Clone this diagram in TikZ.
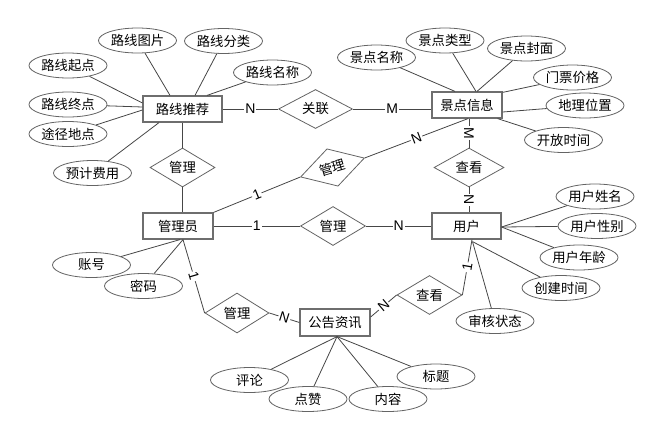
\documentclass[tikz,border=0pt]{standalone}
\usepackage{fontspec}
\setmainfont{Liberation Sans}
\newfontfamily\cjk{Noto Sans CJK SC}
\usetikzlibrary{shapes.geometric,calc}
\definecolor{linec}{RGB}{70,70,70}
\definecolor{shapec}{RGB}{100,100,100}
\definecolor{entc}{RGB}{110,110,110}
\begin{document}
\begin{tikzpicture}[x=0.75pt,y=-0.75pt,
  ent/.style={rectangle, draw=entc, line width=0.9pt, fill=white, minimum width=52.5pt, minimum height=19.5pt, inner sep=0pt, font=\cjk\fontsize{10}{12}\selectfont},
  attr/.style={ellipse, draw=shapec, line width=0.6pt, fill=white, minimum width=58.5pt, minimum height=18.75pt, inner sep=0pt, font=\cjk\fontsize{10}{12}\selectfont},
  rel/.style={diamond, draw=shapec, line width=0.6pt, fill=white, minimum width=48.75pt, minimum height=29.25pt, inner sep=0pt, font=\cjk\fontsize{10}{12}\selectfont},
  conn/.style={draw=linec, line width=0.6pt},
  card/.style={font=\fontsize{10.5}{12}\selectfont, fill=white, inner sep=0.8pt}]
\useasboundingbox (0,0) rectangle (666,439);

% entities
\node[ent, minimum width=59.25pt] (lx) at (182.5,109) {路线推荐};
\node[ent] (jd) at (467,105) {景点信息};
\node[ent] (gly) at (178,226) {管理员};
\node[ent, minimum width=51.75pt] (yh) at (466.5,226) {用户};
\node[ent, minimum height=20.25pt] (gg) at (335,322.5) {公告资讯};

% relationships
\node[rel, minimum width=55.5pt] (gl) at (315.5,109) {关联};
\node[rel] (r1) at (182.5,167.5) {管理};
\node[rel, minimum width=50pt, minimum height=28.5pt, rotate=16.5] (r2) at (332.5,167.5) {管理};
\node[rel] (r3) at (333,226) {管理};
\node[rel, minimum width=52.5pt] (r4) at (469,167.5) {查看};
\node[rel, minimum width=48pt, minimum height=30pt] (r5) at (237,313) {管理};
\node[rel, minimum height=28.5pt] (r6) at (429.5,295) {查看};

% attributes of 路线推荐
\node[attr] (a1) at (137.5,40.5) {路线图片};
\node[attr] (a2) at (223.5,41) {路线分类};
\node[attr] (a3) at (68,65.5) {路线起点};
\node[attr] (a4) at (272.5,72.5) {路线名称};
\node[attr] (a5) at (68,104.5) {路线终点};
\node[attr] (a6) at (68,134) {途径地点};
\node[attr] (a7) at (92.5,173) {预计费用};

% attributes of 景点信息
\node[attr] (b1) at (376.5,57.5) {景点名称};
\node[attr] (b2) at (445,40.5) {景点类型};
\node[attr] (b3) at (526.5,48.5) {景点封面};
\node[attr] (b4) at (572.5,77.5) {门票价格};
\node[attr] (b5) at (585,105.5) {地理位置};
\node[attr] (b6) at (563.5,140) {开放时间};

% attributes of 管理员
\node[attr] (c1) at (91.5,265) {账号};
\node[attr] (c2) at (143.5,286) {密码};

% attributes of 用户
\node[attr] (d1) at (595,196.5) {用户姓名};
\node[attr] (d2) at (597,226) {用户性别};
\node[attr] (d3) at (579,257.5) {用户年龄};
\node[attr] (d4) at (561,288) {创建时间};
\node[attr] (d5) at (495,321) {审核状态};

% attributes of 公告资讯
\node[attr] (e1) at (249.5,380) {评论};
\node[attr] (e2) at (308,399) {点赞};
\node[attr] (e3) at (388,399) {内容};
\node[attr] (e4) at (436,376.5) {标题};

% attribute connectors
\draw[conn] ($(lx.north)+(-12.5,0)$) -- (a1);
\draw[conn] ($(lx.north)+(12.5,0)$) -- (a2);
\draw[conn] ($(lx.north)+(24.5,0)$) -- (a4);
\draw[conn] ($(lx.west)+(0,-6)$) -- (a3);
\draw[conn] ($(lx.west)+(0,-2)$) -- (a5);
\draw[conn] ($(lx.west)+(0,1)$) -- (a6);
\draw[conn] ($(lx.south)+(-23.5,0)$) -- (a7);

\draw[conn] ($(jd.north)+(-12,0)$) -- (b1);
\draw[conn] ($(jd.north)+(9,0)$) -- (b2);
\draw[conn] ($(jd.north)+(10,0)$) -- (b3);
\draw[conn] ($(jd.north east)+(0,1)$) -- (b4);
\draw[conn] ($(jd.east)+(0,7)$) -- (b5);
\draw[conn] ($(jd.south east)+(-5,0)$) -- (b6);

\draw[conn] ($(gly.south)+(2,0)$) -- (c1);
\draw[conn] ($(gly.south)+(5,0)$) -- (c2);

\draw[conn] ($(yh.east)+(0,1)$) -- (d1);
\draw[conn] ($(yh.east)+(0,1)$) -- (d2);
\draw[conn] ($(yh.east)+(0,1)$) -- (d3);
\draw[conn] ($(yh.south)+(6,2)$) -- (d4);
\draw[conn] ($(yh.south)+(6,2)$) -- (d5);

\draw[conn] ($(gg.south)+(2,0)$) -- (e1);
\draw[conn] ($(gg.south)+(2,0)$) -- (e2);
\draw[conn] ($(gg.south)+(2,0)$) -- (e3);
\draw[conn] ($(gg.south)+(2,0)$) -- (e4);

% relationship connectors
\draw[conn] (lx.east) -- node[card] {N} (gl.west);
\draw[conn] (gl.east) -- node[card] {M} (gl.east -| jd.west);
\draw[conn] (lx.south) -- (r1.north);
\draw[conn] (r1.south) -- (r1.south |- gly.north);
\draw[conn] (gly.north east) -- node[card, sloped] {1} (r2.west);
\draw[conn] (r2.east) -- node[card, sloped] {N} ($(jd.south)+(1,0)$);
\draw[conn] (gly.east) -- node[card] {1} (r3.west);
\draw[conn] (r3.east) -- node[card] {N} (r3.east -| yh.west);
\draw[conn] (r4.north |- jd.south) -- node[card, rotate=-90] {M} (r4.north);
\draw[conn] (r4.south) -- node[card, rotate=-90] {N} (r4.south |- yh.north);
\draw[conn] ($(gly.south)+(5,0)$) -- node[card, sloped] {1} (r5.west);
\draw[conn] (r5.east) -- node[card, sloped] {N} (gg.west);
\draw[conn] ($(gg.east)+(0,-5.5)$) -- node[card, sloped] {N} (r6.west);
\draw[conn] (r6.east) -- node[card, sloped] {1} ($(yh.south)+(5.5,0)$);
\end{tikzpicture}
\end{document}
